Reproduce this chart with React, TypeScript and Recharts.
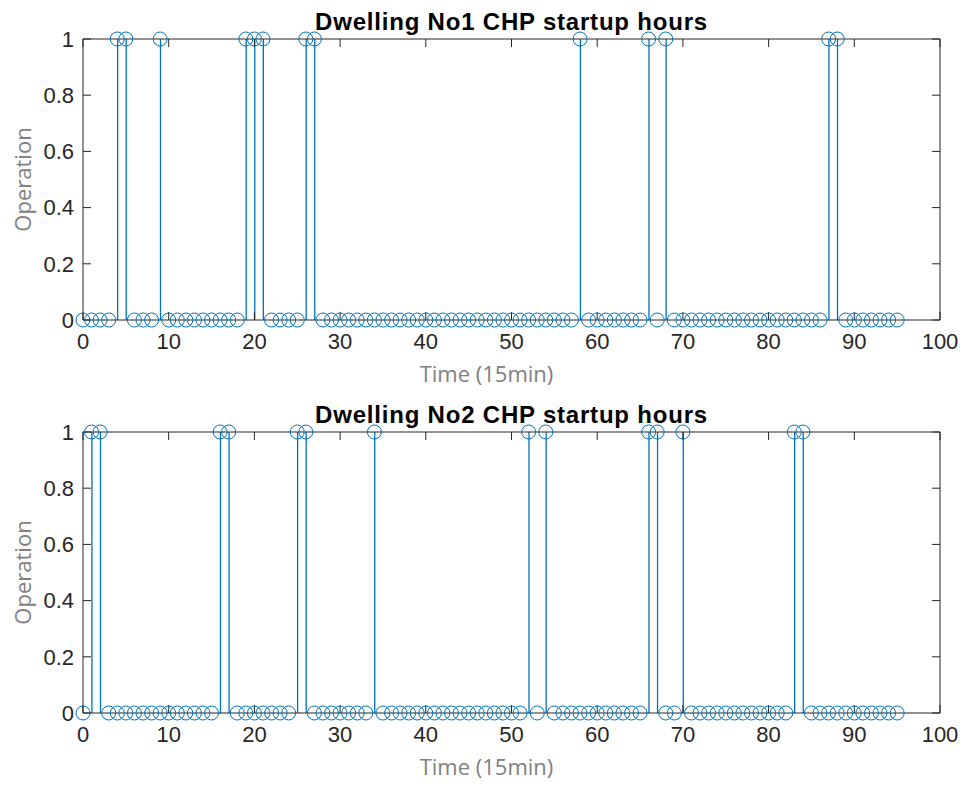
import { ComposedChart, Bar, Scatter, XAxis, YAxis } from "recharts";

/* time index (15 min steps) */
const TIME = [
  0, 1, 2, 3, 4, 5, 6, 7, 8, 9, 10, 11, 12, 13, 14, 15, 16, 17, 18, 19, 20, 21, 22, 23, 24, 25, 26, 27, 28, 29, 30, 31,
  32, 33, 34, 35, 36, 37, 38, 39, 40, 41, 42, 43, 44, 45, 46, 47, 48, 49, 50, 51, 52, 53, 54, 55, 56, 57, 58, 59, 60,
  61, 62, 63, 64, 65, 66, 67, 68, 69, 70, 71, 72, 73, 74, 75, 76, 77, 78, 79, 80, 81, 82, 83, 84, 85, 86, 87, 88, 89,
  90, 91, 92, 93, 94, 95,
];

/* startup flags, dwelling 1 */
const DWELLING_1 = [
  0, 0, 0, 0, 1, 1, 0, 0, 0, 1,
  0, 0, 0, 0, 0, 0, 0, 0, 0, 1,
  1, 1, 0, 0, 0, 0, 1, 1, 0, 0,
  0, 0, 0, 0, 0, 0, 0, 0, 0, 0,
  0, 0, 0, 0, 0, 0, 0, 0, 0, 0,
  0, 0, 0, 0, 0, 0, 0, 0, 1, 0,
  0, 0, 0, 0, 0, 0, 1, 0, 1, 0,
  0, 0, 0, 0, 0, 0, 0, 0, 0, 0,
  0, 0, 0, 0, 0, 0, 0, 1, 1, 0,
  0, 0, 0, 0, 0, 0,
];

/* startup flags, dwelling 2 */
const DWELLING_2 = [
  0, 1, 1, 0, 0, 0, 0, 0, 0, 0,
  0, 0, 0, 0, 0, 0, 1, 1, 0, 0,
  0, 0, 0, 0, 0, 1, 1, 0, 0, 0,
  0, 0, 0, 0, 1, 0, 0, 0, 0, 0,
  0, 0, 0, 0, 0, 0, 0, 0, 0, 0,
  0, 0, 1, 0, 1, 0, 0, 0, 0, 0,
  0, 0, 0, 0, 0, 0, 1, 1, 0, 0,
  1, 0, 0, 0, 0, 0, 0, 0, 0, 0,
  0, 0, 0, 1, 1, 0, 0, 0, 0, 0,
  0, 0, 0, 0, 0, 0,
];

const X_TICKS = [0, 10, 20, 30, 40, 50, 60, 70, 80, 90, 100];
const Y_TICKS = [0, 0.2, 0.4, 0.6, 0.8, 1];

const BLUE = "#0072BD";
const AXIS = "#262626";
const W = 965;

const tickFont = { fontSize: 22, fill: AXIS, fontFamily: "'Liberation Sans', Arial, sans-serif" };
const labelFont = { fontSize: 22, fill: "#808080", fontFamily: "'Open Sans', sans-serif" };

function Circle(props: any) {
  const { cx, cy } = props;
  return <circle cx={cx} cy={cy} r={7} fill="none" stroke={BLUE} strokeWidth={1} />;
}

function Nothing() {
  return null;
}

// tick renderer that draws no label, so the tick line stays
const noLabel = () => <g />;

function StemPlot({ values, title, top }: { values: number[]; title: string; top: number }) {
  const rows = TIME.map((t, i) => ({ t, v: values[i] }));
  return (
    <div style={{ position: "absolute", left: 0, top, width: W, height: 396 }}>
      <div
        style={{
          position: "absolute",
          left: 83,
          width: 857,
          top: 10,
          textAlign: "center",
          fontFamily: "'Liberation Sans', Arial, sans-serif",
          fontWeight: "bold",
          fontSize: 24,
          letterSpacing: 0.8,
          lineHeight: "24px",
          color: "#000",
        }}
      >
        {title}
      </div>
      <ComposedChart width={W} height={396} data={rows} margin={{ top: 38, right: 24, bottom: 6, left: 23 }}>
        <XAxis
          dataKey="t"
          type="number"
          domain={[0, 100]}
          ticks={X_TICKS}
          height={70}
          stroke={AXIS}
          tickSize={-8}
          tickMargin={21}
          tick={tickFont}
          label={{ value: "Time (15min)", position: "insideBottom", offset: 8, dx: -25, style: labelFont }}
        />
        <XAxis
          xAxisId="top"
          dataKey="t"
          orientation="top"
          type="number"
          domain={[0, 100]}
          ticks={X_TICKS}
          height={1}
          stroke={AXIS}
          tickSize={-8}
          tick={noLabel}
        />
        <YAxis
          type="number"
          domain={[0, 1]}
          ticks={Y_TICKS}
          width={60}
          stroke={AXIS}
          tickSize={-8}
          tickMargin={17}
          tick={tickFont}
          label={{
            value: "Operation",
            angle: -90,
            position: "insideLeft",
            offset: 0,
            style: { ...labelFont, textAnchor: "middle" },
          }}
        />
        <YAxis
          yAxisId="right"
          orientation="right"
          type="number"
          domain={[0, 1]}
          ticks={Y_TICKS}
          width={1}
          stroke={AXIS}
          tickSize={-8}
          tick={noLabel}
        />
        <Bar dataKey="v" barSize={1.3} fill={BLUE} isAnimationActive={false} />
        <Scatter dataKey="v" shape={<Circle />} isAnimationActive={false} />
        <Scatter xAxisId="top" yAxisId="right" dataKey="v" shape={<Nothing />} isAnimationActive={false} />
      </ComposedChart>
    </div>
  );
}

export default function App() {
  return (
    <div style={{ position: "absolute", left: 0, top: 0, width: W, height: 789, background: "#fff" }}>
      <StemPlot values={DWELLING_1} title="Dwelling No1 CHP startup hours" top={0} />
      <StemPlot values={DWELLING_2} title="Dwelling No2 CHP startup hours" top={393} />
    </div>
  );
}
